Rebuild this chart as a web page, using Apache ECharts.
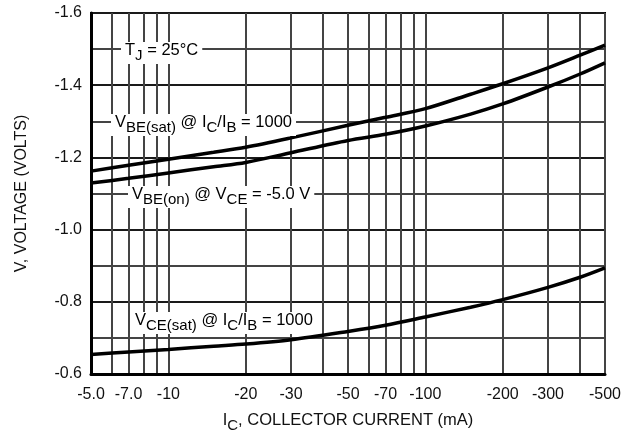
<!DOCTYPE html>
<html><head><meta charset="utf-8">
<script src="https://cdn.jsdelivr.net/npm/echarts@6/dist/echarts.min.js"></script>
<style>html,body{margin:0;padding:0;background:#fff}#c{width:630px;height:434px}</style>
</head><body><div id="c"></div>
<script>
// Collector current magnitude (mA); axis shows them as negative values
const currents = [5, 7, 10, 15, 20, 30, 50, 70, 100, 150, 200, 300, 400, 500];
const vbeSat = [-1.162, -1.178, -1.195, -1.214, -1.228, -1.254, -1.289, -1.311, -1.335, -1.375, -1.404, -1.448, -1.483, -1.511];
const vbeOn  = [-1.129, -1.142, -1.157, -1.174, -1.186, -1.213, -1.247, -1.264, -1.287, -1.320, -1.348, -1.395, -1.431, -1.462];
const vceSat = [-0.654, -0.661, -0.668, -0.677, -0.683, -0.695, -0.718, -0.735, -0.758, -0.785, -0.806, -0.840, -0.868, -0.894];
const xLabelValues = [5, 7, 10, 20, 30, 50, 70, 100, 200, 300, 500];
const xGridValues = [5, 6, 7, 8, 9, 10, 20, 30, 40, 50, 60, 70, 80, 90, 100, 200, 300, 400, 500];

const FONT = 'Liberation Sans, Arial, sans-serif';
const pair = ys => currents.map((c, i) => [c, ys[i]]);
const rich = {
  m: {fontFamily: FONT, fontSize: 16.5, color: '#111', lineHeight: 20, verticalAlign: 'bottom', padding: [0, 0, 4, 0]},
  s: {fontFamily: FONT, fontSize: 15, color: '#111', lineHeight: 20, verticalAlign: 'bottom', padding: [0, 0, 0, 0]}
};
function note(x, y, text) {
  return {type: 'text', left: x, top: y, z: 100,
    style: {text: text, rich: rich, backgroundColor: '#fff', padding: [1, 4, 1, 4]}};
}
const chart = echarts.init(document.getElementById('c'));
chart.setOption({
  animation: false,
  backgroundColor: '#fff',
  grid: {left: 91, right: 25, top: 13, bottom: 60, show: true, borderColor: '#000', borderWidth: 2,
    outerBoundsMode: 'none', containLabel: false},
  xAxis: {
    type: 'log', logBase: 10, min: 5, max: 500,
    name: '{m|I}{s|C}{m|, COLLECTOR CURRENT (mA)}',
    nameLocation: 'middle', nameGap: 39,
    nameTextStyle: {rich: rich},
    axisLine: {onZero: false, lineStyle: {color: '#000', width: 3}},
    axisTick: {show: false, customValues: xGridValues},
    axisLabel: {customValues: xLabelValues, color: '#111', fontFamily: FONT, fontSize: 16, margin: 13,
      formatter: v => (v < 10 ? '-' + Number(v).toFixed(1) : '-' + v)},
    splitLine: {show: true, lineStyle: {color: '#444', width: 2}},
    minorSplitLine: {show: false}
  },
  yAxis: {
    type: 'value', inverse: true, min: -1.6, max: -0.6, interval: 0.1,
    name: 'V, VOLTAGE (VOLTS)', nameLocation: 'middle', nameGap: 61,
    nameTextStyle: {color: '#111', fontFamily: FONT, fontSize: 16},
    axisLine: {lineStyle: {color: '#000', width: 3}},
    axisTick: {show: false},
    axisLabel: {color: '#111', fontFamily: FONT, fontSize: 16, margin: 9,
      formatter: v => (Math.round(v * 10) % 2 === 0 ? Number(v).toFixed(1) : '')},
    splitLine: {show: true, lineStyle: {color: ['#1a1a1a', '#444'], width: 2}}
  },
  series: [
    {type: 'line', data: pair(vbeSat), smooth: 0.3, symbol: 'none', lineStyle: {color: '#000', width: 3.5}, z: 5},
    {type: 'line', data: pair(vbeOn), smooth: 0.3, symbol: 'none', lineStyle: {color: '#000', width: 3.5}, z: 5},
    {type: 'line', data: pair(vceSat), smooth: 0.3, symbol: 'none', lineStyle: {color: '#000', width: 3.5}, z: 5}
  ],
  graphic: [
    note(121, 42, '{m|T}{s|J}{m| = 25°C}'),
    note(111, 114, '{m|V}{s|BE(sat)}{m| @ I}{s|C}{m|/I}{s|B}{m| = 1000}'),
    note(128, 186, '{m|V}{s|BE(on)}{m| @ V}{s|CE}{m| = -5.0 V}'),
    note(131, 312, '{m|V}{s|CE(sat)}{m| @ I}{s|C}{m|/I}{s|B}{m| = 1000}')
  ]
});
</script></body></html>
